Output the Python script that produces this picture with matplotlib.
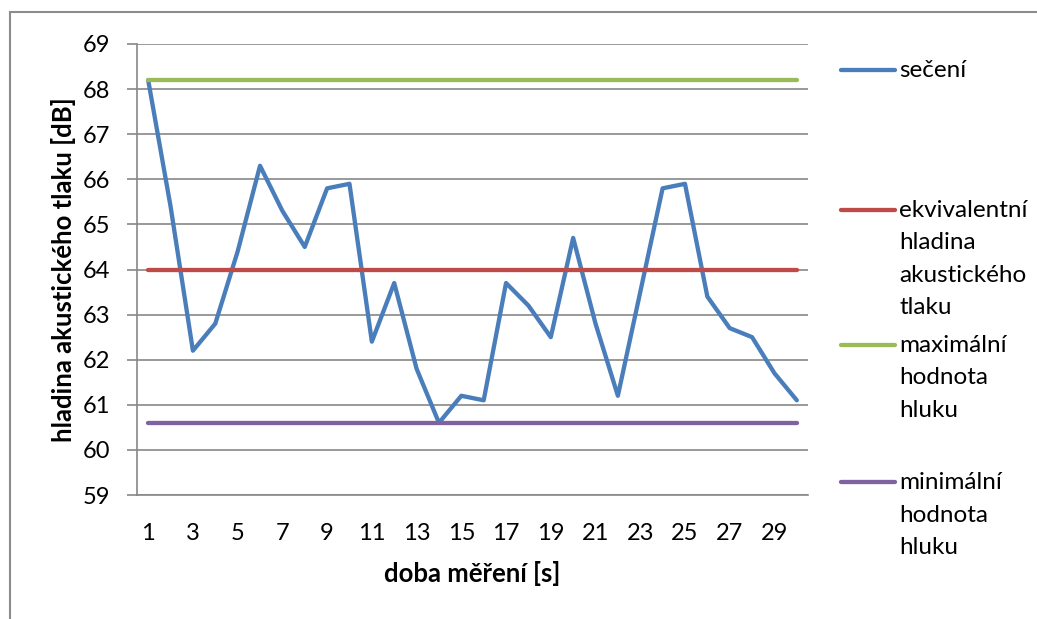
import matplotlib.pyplot as plt
from matplotlib.lines import Line2D
from matplotlib.patches import Rectangle

plt.rcParams['font.family'] = ['Lato', 'DejaVu Sans']

# doba měření 1..30 s
cas = list(range(1, 31))
seceni = [68.2, 65.4, 62.2, 62.8, 64.4, 66.3, 65.3, 64.5, 65.8, 65.9,
          62.4, 63.7, 61.8, 60.6, 61.2, 61.1, 63.7, 63.2, 62.5, 64.7,
          62.8, 61.2, 63.5, 65.8, 65.9, 63.4, 62.7, 62.5, 61.7, 61.1]
ekvivalentni = [64.0] * 30
maximalni = [68.2] * 30
minimalni = [60.6] * 30

nazvy = ['sečení',
         'ekvivalentní\nhladina\nakustického\ntlaku',
         'maximální\nhodnota\nhluku',
         'minimální\nhodnota\nhluku']
barvy = ['#4A7EBB', '#BE4B48', '#9BBB59', '#7F63A1']
y_ticks = list(range(59, 70))
x_ticks = list(range(1, 31, 2))

W, H = 1037, 619
fig = plt.figure(figsize=(W / 100, H / 100), dpi=100)
ax = fig.add_axes([137 / W, 1 - 495 / H, (808 - 137) / W, (495 - 44) / H])

for rada, barva in zip([seceni, ekvivalentni, maximalni, minimalni], barvy):
    ax.plot(cas, rada, color=barva, linewidth=3.1, solid_capstyle='round',
            solid_joinstyle='round')

ax.set_xlim(0.5, 30.5)
ax.set_ylim(59, 69)
ax.set_yticks(y_ticks)
ax.set_xticks(x_ticks)
ax.grid(axis='y', color='#878787', linewidth=1.2)
ax.set_axisbelow(True)
for s in ['top', 'right']:
    ax.spines[s].set_visible(False)
for s in ['left', 'bottom']:
    ax.spines[s].set_color('#878787')
    ax.spines[s].set_linewidth(1.2)
ax.tick_params(axis='y', length=7, width=1.2, color='#878787', pad=12, labelsize=17)
ax.tick_params(axis='x', length=0, pad=20, labelsize=17)

ax.set_ylabel('hladina akustického tlaku [dB]', fontsize=18.5, fontweight='bold')
ax.yaxis.set_label_coords(-61 / 671, 0.5)
ax.yaxis.label.set_rotation_mode('anchor')
ax.yaxis.label.set_va('bottom')
ax.set_xlabel('doba měření [s]', fontsize=18.5, fontweight='bold')
ax.xaxis.set_label_coords(0.5, -(573 - 495) / 451)
ax.xaxis.label.set_va('center')

# legenda vpravo
prvni_radky = [70, 210, 345, 482]
for nazev, barva, yy in zip(nazvy, barvy, prvni_radky):
    fig.add_artist(Line2D([841 / W, 895 / W], [1 - yy / H] * 2,
                          transform=fig.transFigure, color=barva,
                          linewidth=3.1, solid_capstyle='round'))
    for i, radek in enumerate(nazev.split('\n')):
        fig.text(899 / W, 1 - (yy + 7 + i * 32.5) / H, radek,
                 fontsize=17.5, va='baseline', ha='left')

# ramecek grafu
fig.add_artist(Rectangle((10 / W, -0.1), 1.2, 1 - 12 / H + 0.1,
                         transform=fig.transFigure, fill=False,
                         edgecolor='#8c8c8c', linewidth=1.5))

fig.savefig('out.png', dpi=100)
